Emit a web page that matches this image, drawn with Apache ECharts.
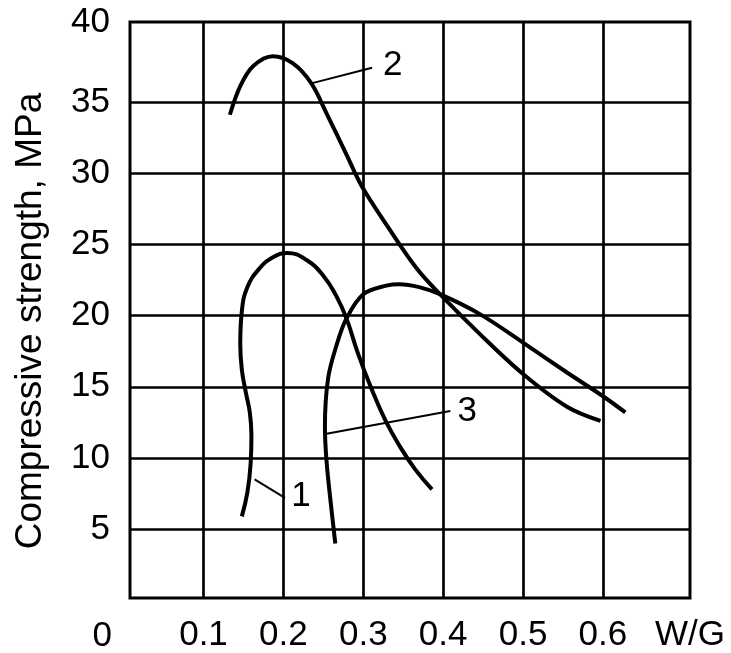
<!DOCTYPE html>
<html>
<head>
<meta charset="utf-8">
<script src="https://cdn.jsdelivr.net/npm/echarts@6/dist/echarts.min.js"></script>
<style>
  html, body { margin: 0; padding: 0; background: #fff; }
  #chart { width: 731px; height: 653px; }
</style>
</head>
<body>
<div id="chart"></div>
<script>
// tick values
const xTicks = [0.1, 0.2, 0.3, 0.4, 0.5, 0.6];
const yTicks = [5, 10, 15, 20, 25, 30, 35];
const xMin = 0.008, xMax = 0.709;
const yMin = 0.17, yMax = 40.61;

// curves [W/G, MPa]
const curve1 = [
  [0.148, 5.9], [0.155, 7.6], [0.159, 9.6], [0.160, 11.6], [0.158, 13.2],
  [0.153, 14.6], [0.148, 16.2], [0.146, 18.0], [0.148, 20.3], [0.155, 22.0],
  [0.170, 23.3], [0.187, 24.1], [0.205, 24.4], [0.229, 23.9], [0.250, 22.8],
  [0.266, 21.4], [0.279, 19.8], [0.293, 17.4], [0.310, 14.9], [0.328, 12.6],
  [0.346, 10.8], [0.365, 9.2], [0.386, 7.8]
];
const curve2 = [
  [0.133, 34.1], [0.146, 36.1], [0.162, 37.5], [0.187, 38.2], [0.212, 37.7],
  [0.235, 36.3], [0.254, 34.2], [0.279, 31.3], [0.298, 29.1], [0.330, 26.3],
  [0.367, 23.3], [0.396, 21.5], [0.446, 18.7], [0.500, 15.9], [0.555, 13.6],
  [0.597, 12.6]
];
const curve3 = [
  [0.265, 4.0], [0.259, 7.0], [0.254, 9.8], [0.252, 12.2], [0.256, 15.6],
  [0.267, 18.0], [0.279, 19.8], [0.300, 21.5], [0.329, 22.1], [0.345, 22.2],
  [0.370, 22.0], [0.396, 21.5], [0.446, 20.1], [0.500, 18.1], [0.555, 16.0],
  [0.601, 14.3], [0.628, 13.2]
];

// leader lines and their numbers
const leader1 = [[0.164, 8.5], [0.202, 7.2]];
const leader2 = [[0.235, 36.3], [0.311, 37.4]];
const leader3 = [[0.254, 11.7], [0.409, 13.3]];
const tags = [[0.222, 7.3, '1'], [0.337, 37.6, '2'], [0.430, 13.3, '3']];

const font = 'Liberation Sans, Arial, sans-serif';
const chart = echarts.init(document.getElementById('chart'));

const curve = (data, smooth) => ({
  type: 'line', data, smooth: smooth || 0.35, symbol: 'none', z: 4,
  lineStyle: { color: '#000', width: 4 }
});
const leader = (data) => ({
  type: 'line', data, symbol: 'none', z: 4,
  lineStyle: { color: '#000', width: 2 }
});

chart.setOption({
  animation: false,
  grid: {
    left: 130, right: 41, top: 22, bottom: 51,
    show: true, borderColor: '#000', borderWidth: 3
  },
  xAxis: {
    type: 'value', min: xMin, max: xMax,
    axisLine: { show: false }, axisTick: { show: false }, splitLine: { show: false },
    axisLabel: {
      customValues: xTicks.concat([xMax]),
      formatter: v => v > 0.65 ? 'W/G' : v.toFixed(1),
      color: '#000', fontSize: 35, fontFamily: font, margin: 20
    }
  },
  yAxis: {
    type: 'value', min: yMin, max: yMax,
    name: 'Compressive strength, MPa', nameLocation: 'middle', nameGap: 81,
    nameTextStyle: { color: '#000', fontSize: 37, fontFamily: font, padding: [0, 22, 0, 0] },
    axisLine: { show: false }, axisTick: { show: false }, splitLine: { show: false },
    axisLabel: {
      customValues: yTicks.concat([yMax]),
      formatter: v => v > 39 ? '40' : String(v),
      color: '#000', fontSize: 35, fontFamily: font, margin: 20
    }
  },
  graphic: [{
    type: 'text', right: 731 - 112, top: 619,
    style: { text: '0', fill: '#000', font: '35px ' + font, textAlign: 'right' }
  }],
  series: [
    {
      type: 'line', data: [], z: 1,
      markLine: {
        silent: true, symbol: ['none', 'none'], label: { show: false },
        lineStyle: { color: '#000', width: 2.7, type: 'solid' },
        data: xTicks.map(v => ({ xAxis: v })).concat(yTicks.map(v => ({ yAxis: v })))
      }
    },
    curve(curve1, 0.45), curve(curve2), curve(curve3),
    leader(leader1), leader(leader2), leader(leader3),
    {
      type: 'scatter', data: tags, symbolSize: 0, z: 5,
      itemStyle: { opacity: 1 },
      label: {
        show: true, position: [0, 0], align: 'center', verticalAlign: 'middle',
        formatter: p => p.data[2],
        color: '#000', fontSize: 35, fontFamily: font
      }
    }
  ]
});
</script>
</body>
</html>
